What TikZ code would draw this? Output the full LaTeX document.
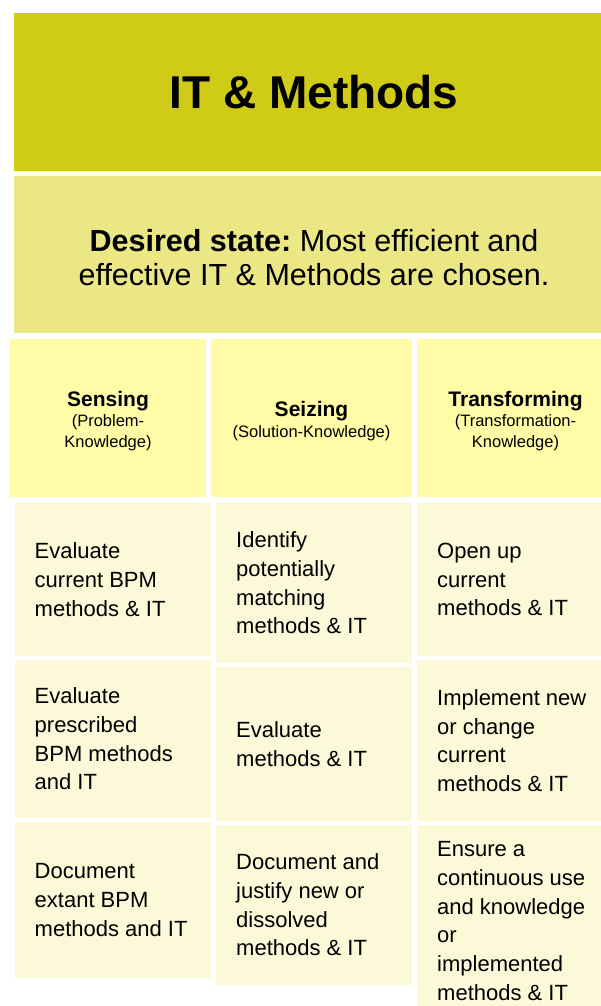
\documentclass[tikz,border=0pt]{standalone}
\usepackage{fontspec}
\setmainfont{Liberation Sans}
\frenchspacing
\definecolor{titlecol}{HTML}{CFCB16}
\definecolor{desiredcol}{HTML}{EBE785}
\definecolor{headcol}{HTML}{FFFBA6}
\definecolor{bodycol}{HTML}{FCF9D8}
\tikzset{
  box/.style={inner sep=0pt, outer sep=0pt, draw=none, anchor=north west},
  titlebox/.style={box, fill=titlecol},
  desiredbox/.style={box, fill=desiredcol},
  headbox/.style={box, fill=headcol, minimum height=158pt},
  bodybox/.style={box, fill=bodycol},
  headtext/.style={inner sep=0pt, align=center, font=\fontsize{16.5}{20.5}\selectfont, yshift=-3pt},
  bodytext/.style={inner sep=0pt, align=left, anchor=west, font=\fontsize{22}{28.7}\selectfont},
}
\newcommand{\hdtitle}[1]{{\fontsize{21}{25}\selectfont\bfseries #1}}
\begin{document}
\begin{tikzpicture}[x=1pt,y=-1pt]
\useasboundingbox (0,0) rectangle (601,1006);
\fill[white] (0,0) rectangle (601,1006);

% title
\node[titlebox, minimum width=600pt, minimum height=158pt] (title) at (14,13) {};
\node[inner sep=0pt, font=\bfseries\fontsize{46}{50}\selectfont] (titletext) at (title.center) {IT \& Methods};

% desired state
\node[desiredbox, minimum width=600pt, minimum height=157pt] (desired) at (14,176) {};
\node[inner sep=0pt, align=center, font=\fontsize{30.5}{33.5}\selectfont, yshift=-3pt] (desiredtext) at (desired.center)
  {\textbf{Desired state:} Most efficient and\\effective IT \& Methods are chosen.};

% headers
\node[headbox, minimum width=196pt] (h1) at (10,339) {};
\node[headbox, minimum width=201pt] (h2) at (211,339) {};
\node[headbox, minimum width=197pt] (h3) at (417,339) {};
\node[headtext] (h1t) at (h1.center) {\hdtitle{Sensing}\\(Problem-\\Knowledge)};
\node[headtext] (h2t) at (h2.center) {\hdtitle{Seizing}\\(Solution-Knowledge)};
\node[headtext] (h3t) at (h3.center) {\hdtitle{Transforming}\\(Transformation-\\Knowledge)};

% column 1
\node[bodybox, minimum width=196pt, minimum height=153pt] (c11) at (14.5,503) {};
\node[bodybox, minimum width=196pt, minimum height=158pt] (c12) at (14.5,660) {};
\node[bodybox, minimum width=196pt, minimum height=156pt] (c13) at (14.5,822) {};
% column 2
\node[bodybox, minimum width=196pt, minimum height=160pt] (c21) at (216,503) {};
\node[bodybox, minimum width=196pt, minimum height=154pt] (c22) at (216,667) {};
\node[bodybox, minimum width=196pt, minimum height=160pt] (c23) at (216,825) {};
% column 3
\node[bodybox, minimum width=197pt, minimum height=153pt] (c31) at (417,503) {};
\node[bodybox, minimum width=197pt, minimum height=161pt] (c32) at (417,660) {};
\node[bodybox, minimum width=197pt, minimum height=192pt] (c33) at (417,825) {};

\node[bodytext] (t11) at ([xshift=20pt]c11.west) {Evaluate\\current BPM\\methods \& IT};
\node[bodytext] (t12) at ([xshift=20pt]c12.west) {Evaluate\\prescribed\\BPM methods\\and IT};
\node[bodytext] (t13) at ([xshift=20pt]c13.west) {Document\\extant BPM\\methods and IT};
\node[bodytext] (t21) at ([xshift=20pt]c21.west) {Identify\\potentially\\matching\\methods \& IT};
\node[bodytext] (t22) at ([xshift=20pt]c22.west) {Evaluate\\methods \& IT};
\node[bodytext] (t23) at ([xshift=20pt]c23.west) {Document and\\justify new or\\dissolved\\methods \& IT};
\node[bodytext] (t31) at ([xshift=20pt]c31.west) {Open up\\current\\methods \& IT};
\node[bodytext] (t32) at ([xshift=20pt]c32.west) {Implement new\\or change\\current\\methods \& IT};
\node[bodytext] (t33) at ([xshift=20pt]c33.west) {Ensure a\\continuous use\\and knowledge\\or\\implemented\\methods \& IT};
\end{tikzpicture}
\end{document}
